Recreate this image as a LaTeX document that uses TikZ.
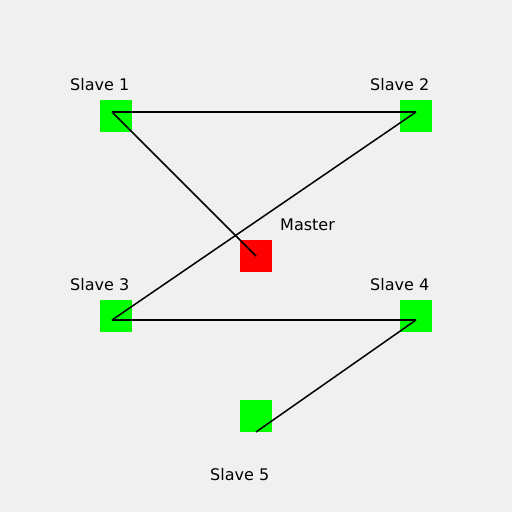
\documentclass[tikz,border=0pt]{standalone}
\usepackage{fontspec}
\setmainfont{DejaVu Sans}
\definecolor{bggray}{RGB}{240,240,240}
\definecolor{slavegreen}{RGB}{0,255,0}
\definecolor{masterred}{RGB}{255,0,0}
\tikzset{
	box/.style={minimum size=32pt, inner sep=0pt, outer sep=0pt, anchor=north west},
	slavebox/.style={box, fill=slavegreen},
	masterbox/.style={box, fill=masterred},
	lbl/.style={anchor=base west, inner sep=0pt, font=\fontsize{16pt}{19pt}\selectfont},
	link/.style={black, line width=1.5pt}
}
\begin{document}
\begin{tikzpicture}[x=1pt,y=-1pt]
	\fill[bggray] (0,0) rectangle (512,512);
	% squares
	\node[slavebox] (slave1) at (100,100) {};
	\node[slavebox] (slave2) at (400,100) {};
	\node[masterbox] (master) at (240,240) {};
	\node[slavebox] (slave3) at (100,300) {};
	\node[slavebox] (slave4) at (400,300) {};
	\node[slavebox] (slave5) at (240,400) {};
	% labels
	\node[lbl] (l1) at (70,90) {Slave 1};
	\node[lbl] (l2) at (370,90) {Slave 2};
	\node[lbl] (lm) at (280,230) {Master};
	\node[lbl] (l3) at (70,290) {Slave 3};
	\node[lbl] (l4) at (370,290) {Slave 4};
	\node[lbl] (l5) at (210,480) {Slave 5};
	% line ends
	\coordinate (p1) at (112,112);
	\coordinate (p2) at (416,112);
	\coordinate (pm) at (256,256);
	\coordinate (p3) at (112,320);
	\coordinate (p4) at (416,320);
	\coordinate (p5) at (256,432);
	\draw[link] (p1) -- (p2);
	\draw[link] (p1) -- (pm);
	\draw[link] (p2) -- (p3);
	\draw[link] (p3) -- (p4);
	\draw[link] (p4) -- (p5);
\end{tikzpicture}
\end{document}
